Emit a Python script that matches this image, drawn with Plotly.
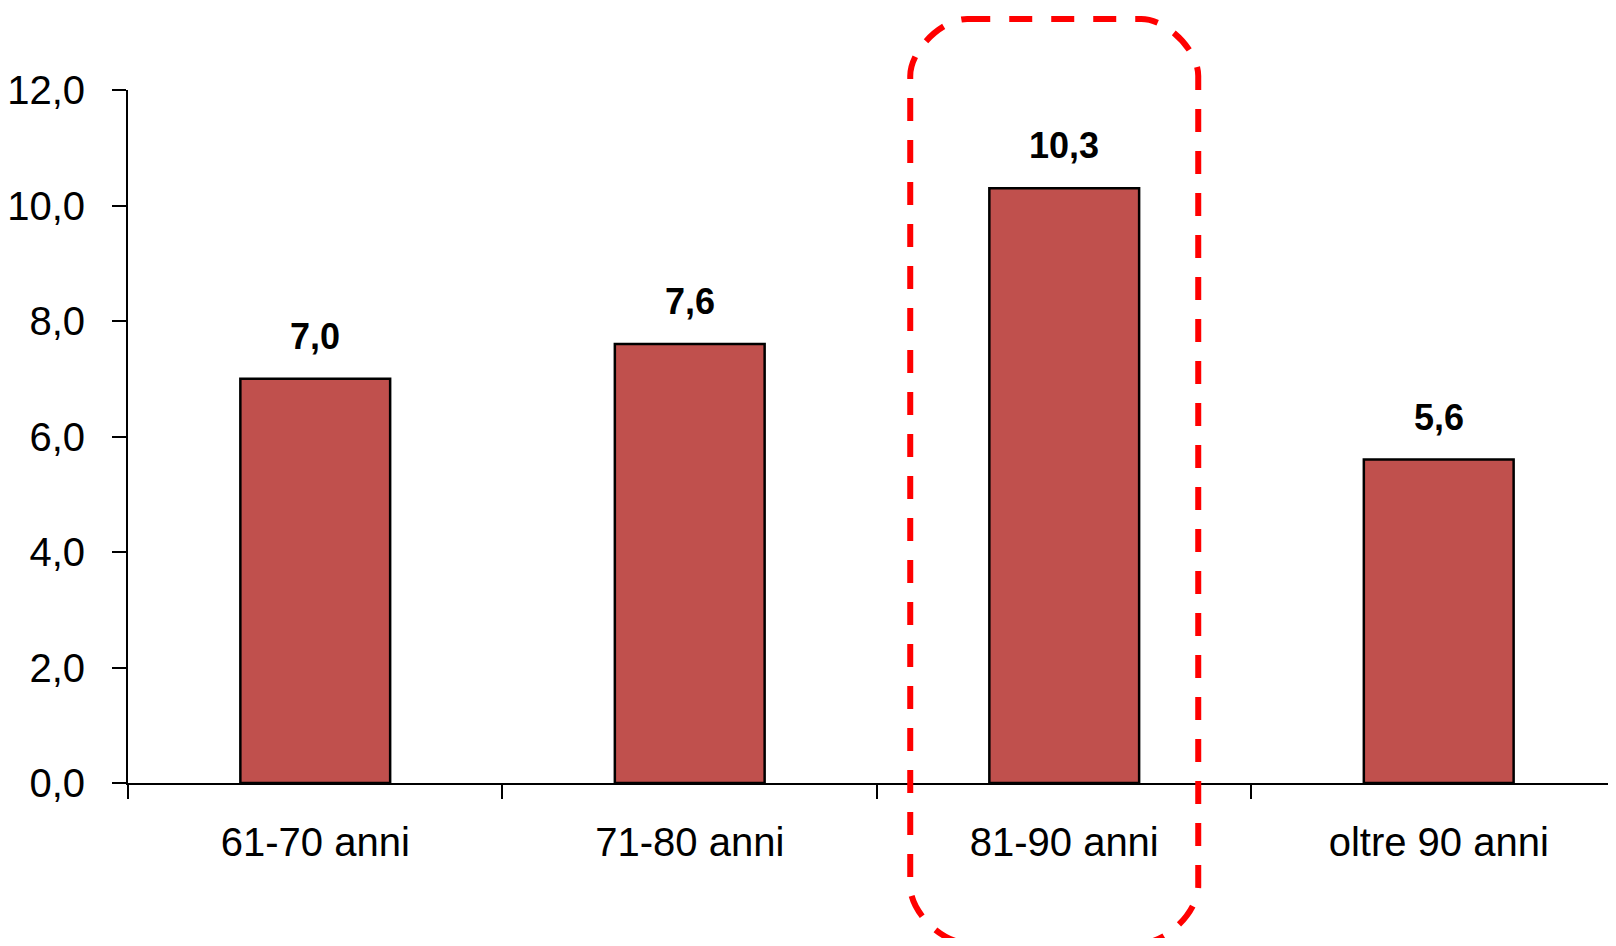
import plotly.graph_objects as go

categories = ["61-70 anni", "71-80 anni", "81-90 anni", "oltre 90 anni"]
values = [7.0, 7.6, 10.3, 5.6]
y_ticks = [0, 2, 4, 6, 8, 10, 12]
highlight = "81-90 anni"

FONT = "Liberation Sans Narrow, Arial Narrow, Liberation Sans, Arial, sans-serif"
BAR_COLOR = "#C0504D"

x_range = [-0.5, 3.452]

fig = go.Figure()
fig.add_trace(go.Bar(
    x=categories, y=values,
    marker=dict(color=BAR_COLOR, line=dict(color="black", width=2.5)),
    width=0.4,
    hoverinfo="skip",
))

for c, v in zip(categories, values):
    fig.add_annotation(
        x=c, y=v, text=f"<b>{v:.1f}</b>".replace(".", ","),
        showarrow=False, yanchor="bottom", yshift=20,
        font=dict(family=FONT, size=36, color="black"),
    )

# rounded dashed highlight box (pixel offsets from the category centre / axis baseline)
idx = categories.index(highlight)
xa = (idx - x_range[0]) / (x_range[1] - x_range[0])
L, R, T, B, r = -154, 134, 764, -160, 57
k = 0.45 * r
path = (
    f"M {L + r},{T} L {R - r},{T} "
    f"C {R - r + k},{T} {R},{T - r + k} {R},{T - r} "
    f"L {R},{B + r} "
    f"C {R},{B + r - k} {R - r + k},{B} {R - r},{B} "
    f"L {L + r},{B} "
    f"C {L + r - k},{B} {L},{B + r - k} {L},{B + r} "
    f"L {L},{T - r} "
    f"C {L},{T - r + k} {L + r - k},{T} {L + r},{T} Z"
)
fig.add_shape(
    type="path", path=path,
    xref="x domain", yref="y domain",
    xsizemode="pixel", ysizemode="pixel",
    xanchor=xa, yanchor=0,
    line=dict(color="#FF0000", width=6, dash="23px,19px"),
    layer="above",
)

fig.update_layout(
    width=1600, height=930,
    margin=dict(l=120, r=0, t=82, b=155),
    plot_bgcolor="white", paper_bgcolor="white",
    separators=",.",
    showlegend=False,
    bargap=0.6,
    font=dict(family=FONT, color="black"),
)
fig.update_xaxes(
    type="category", range=x_range, automargin=False,
    showline=True, linecolor="black", linewidth=2,
    ticks="outside", tickson="boundaries", ticklen=14, tickwidth=2, tickcolor="black",
    tickfont=dict(family=FONT, size=40, color="black"),
    ticklabelstandoff=23,
    showgrid=False, zeroline=False,
)
fig.update_yaxes(
    range=[0, 12], tickvals=y_ticks, tickformat=".1f", automargin=False,
    showline=True, linecolor="black", linewidth=2,
    ticks="outside", ticklen=14, tickwidth=2, tickcolor="black",
    tickfont=dict(family=FONT, size=40, color="black"),
    ticklabelstandoff=19,
    showgrid=False, zeroline=False,
)

fig.write_html("out.html")
